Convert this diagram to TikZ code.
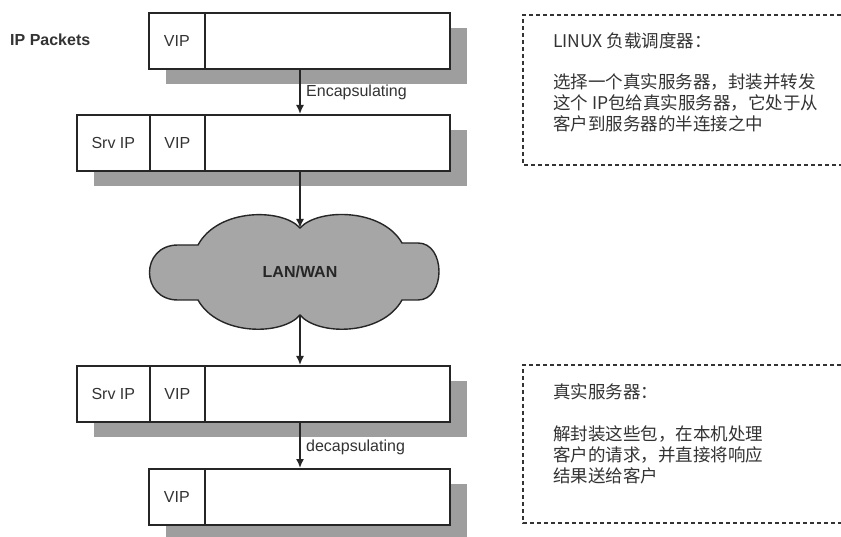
\documentclass[tikz,border=0pt]{standalone}
\usepackage{fontspec}
\setmainfont{Liberation Sans}
\newfontfamily\cjk{Noto Sans CJK SC}
\usetikzlibrary{arrows.meta,calc}
\begin{document}
\begin{tikzpicture}[x=1pt,y=-1pt,
  cell/.style={draw=black!85, line width=1.6pt, fill=white, minimum height=56pt, inner sep=0pt, anchor=north west, font=\fontsize{16}{18}\selectfont, text=black!80},
  shadowfill/.style={fill=black!38},
  arr/.style={draw=black!85, line width=1.6pt, -{Latex[length=9pt,width=8pt]}},
  lbl/.style={anchor=west, inner sep=0pt, font=\fontsize{16}{18}\selectfont, text=black!80},
  note/.style={draw=black!80, line width=1.6pt, dash pattern=on 4pt off 3pt},
  cjktext/.style={anchor=north west, inner sep=0pt, align=left, text=black!80, font=\cjk\fontsize{17.5}{21}\selectfont}
]
\useasboundingbox (0,0) rectangle (841,537);
\fill[white] (0,0) rectangle (841,537);

% shadows
\fill[shadowfill] (166,28) rectangle (467,84);
\fill[shadowfill] (94,130) rectangle (467,186);
\fill[shadowfill] (94,381) rectangle (467,437);
\fill[shadowfill] (166,484) rectangle (467,540);

% packet 1
\node[cell, minimum width=56pt] (p1v) at (148,12) {VIP};
\node[cell, minimum width=245pt] (p1d) at (204,12) {};
% packet 2
\node[cell, minimum width=73pt] (p2s) at (76,114) {Srv IP};
\node[cell, minimum width=55pt] (p2v) at (149,114) {VIP};
\node[cell, minimum width=245pt] (p2d) at (204,114) {};
% packet 3
\node[cell, minimum width=73pt] (p3s) at (76,365) {Srv IP};
\node[cell, minimum width=55pt] (p3v) at (149,365) {VIP};
\node[cell, minimum width=245pt] (p3d) at (204,365) {};
% packet 4
\node[cell, minimum width=56pt] (p4v) at (148,468) {VIP};
\node[cell, minimum width=245pt] (p4d) at (204,468) {};

\node[lbl, font=\bfseries\fontsize{16}{18}\selectfont] (iplbl) at (10,40) {IP Packets};

% cloud
\coordinate (ax) at (300,0);
\coordinate (ctop) at (300,228);
\coordinate (cbot) at (300,315);
\filldraw[fill=black!35, draw=black!85, line width=1.4pt]
  (ctop) .. controls (318,208) and (382,208) .. (402,243)
  -- (418,243) .. controls (446,243) and (446,300) .. (418,300) -- (402,300)
  .. controls (382,336) and (318,336) .. (cbot)
  .. controls (282,336) and (218,336) .. (198,300)
  -- (178,300) .. controls (140,300) and (140,245) .. (178,245) -- (198,245)
  .. controls (218,208) and (282,208) .. (ctop) -- cycle;
\node[font=\bfseries\fontsize{16}{18}\selectfont, text=black!85] (cloud) at (300,272) {LAN/WAN};

% arrows
\draw[arr] (p1d.south -| ax) -- (p2d.north -| ax);
\draw[arr] (p2d.south -| ax) -- (ctop);
\draw[arr] (cbot) -- (p3d.north -| ax);
\draw[arr] (p3d.south -| ax) -- (p4d.north -| ax);
\node[lbl] (enc) at (306,92) {Encapsulating};
\node[lbl] (dec) at (306,447) {decapsulating};

% notes
\draw[note] (841,15) -- (523,15) -- (523,165) -- (841,165);
\draw[note] (841,365) -- (523,365) -- (523,523) -- (841,523);
\node[cjktext] (n1t) at (553,33) {LINUX 负载调度器：};
\node[cjktext] (n1b) at (553,73) {选择一个真实服务器，封装并转发\\这个 IP包给真实服务器，它处于从\\客户到服务器的半连接之中};
\node[cjktext] (n2t) at (553,383) {真实服务器：};
\node[cjktext] (n2b) at (553,425) {解封装这些包，在本机处理\\客户的请求，并直接将响应\\结果送给客户};
\end{tikzpicture}
\end{document}
